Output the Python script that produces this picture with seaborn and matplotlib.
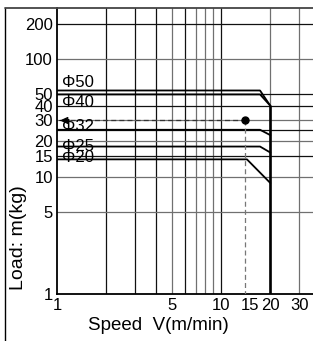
import numpy as np
import pandas as pd
import seaborn as sns
import matplotlib.pyplot as plt
from matplotlib.lines import Line2D

# load curves per bore size (speed in m/min, load in kg)
bores = ["Φ50", "Φ40", "Φ32", "Φ25", "Φ20"]
speed_pts = [[1, 17.3, 20], [1, 17.3, 20], [1, 17.3, 20], [1, 17.3, 20], [1, 14.4, 20]]
load_pts = [[54, 54, 40], [50, 50, 40], [25, 25, 22.5], [18, 18, 16], [14, 14, 8.8]]
label_load = [55, 49.5, 26.5, 17.9, 14.4]

# speed limit line
v_max = 20
limit_load = [40, 1]

# example operating point
op_speed = 14
op_load = 30

x_ticks = [1, 5, 10, 15, 20, 30]
y_ticks = [1, 5, 10, 15, 20, 30, 40, 50, 100, 200]
x_grid = [2, 3, 4, 5, 6, 7, 8, 9, 10, 20, 30]
x_grid_dark = [2, 3, 4, 6, 10]
y_grid = [5, 10, 15, 20, 25, 30, 40, 50, 100, 200]
y_grid_dark = [15, 25, 40, 50, 200]

rows = []
for b, xs, ys in zip(bores, speed_pts, load_pts):
    for x, y in zip(xs, ys):
        rows.append({"bore": b, "speed": x, "load": y})
df = pd.DataFrame(rows)

sns.set_theme(style="white")
plt.rcParams['font.family'] = ['Liberation Sans', 'DejaVu Sans']
plt.rcParams['text.color'] = 'black'

fig = plt.figure(figsize=(3.13, 3.41), dpi=100)
ax = fig.add_axes([57/313, 47/341, 256/313, 286/341])
ax.set_xscale("log")
ax.set_yscale("log")
ax.set_xlim(1, 36.4)
ax.set_ylim(1, 272)

# grid
for g in x_grid:
    c = "#111111" if g in x_grid_dark else "#707070"
    ax.axvline(g, color=c, lw=0.9, zorder=1)
for g in y_grid:
    c = "#111111" if g in y_grid_dark else "#707070"
    ax.axhline(g, color=c, lw=0.9, zorder=1)

sns.lineplot(data=df, x="speed", y="load", hue="bore", units="bore", estimator=None,
             palette=["black"] * len(bores), legend=False, linewidth=1.3, ax=ax, zorder=3)

ax.plot([v_max, v_max], limit_load, color="black", lw=1.9, zorder=4)

# operating point with dashed guides
ax.plot([1.08, op_speed], [op_load, op_load], ls=(0, (4, 2.5)), color="#333333", lw=0.9, zorder=3)
ax.plot([op_speed, op_speed], [op_load, 1], ls=(0, (4, 2.5)), color="#777777", lw=0.9, zorder=3)
ax.annotate("", xy=(1.0, op_load), xytext=(1.09, op_load),
            arrowprops=dict(arrowstyle="-|>,head_length=0.4,head_width=0.18", color="black", lw=0.8))
ax.plot([op_speed], [op_load], "o", color="black", ms=5, zorder=5)

for b, yl in zip(bores, label_load):
    va = "center"
    if b == "Φ50":
        va = "bottom"
    elif b == "Φ40":
        va = "top"
    ax.text(1.07, yl, b, fontsize=12, va=va, ha="left", color="black", zorder=6)

ax.set_xticks(x_ticks)
ax.set_xticklabels([str(t) for t in x_ticks])
ax.set_yticks(y_ticks)
ax.set_yticklabels([str(t) for t in y_ticks])
ax.minorticks_off()
ax.tick_params(length=0, labelsize=12, pad=3, colors="black")
ax.set_xlabel("")
ax.set_ylabel("")

ax.spines["right"].set_visible(False)
ax.spines["left"].set_color("black")
ax.spines["left"].set_linewidth(1.3)
ax.spines["bottom"].set_color("black")
ax.spines["bottom"].set_linewidth(1.3)
ax.spines["top"].set_color("#444444")
ax.spines["top"].set_linewidth(1.3)

fig.text(158/313, 1 - 326/341, "Speed  V(m/min)", fontsize=13.5, ha="center", va="center")
fig.text(19/313, 1 - 238/341, "Load: m(kg)", fontsize=14, rotation=90, ha="center", va="center")

# outer frame
fig.add_artist(Line2D([5/313, 5/313], [0, 1 - 8/341], color="black", lw=1.0))
fig.add_artist(Line2D([5/313, 57/313], [1 - 8/341, 1 - 8/341], color="#444444", lw=1.3))

fig.savefig("out.png", dpi=100)
